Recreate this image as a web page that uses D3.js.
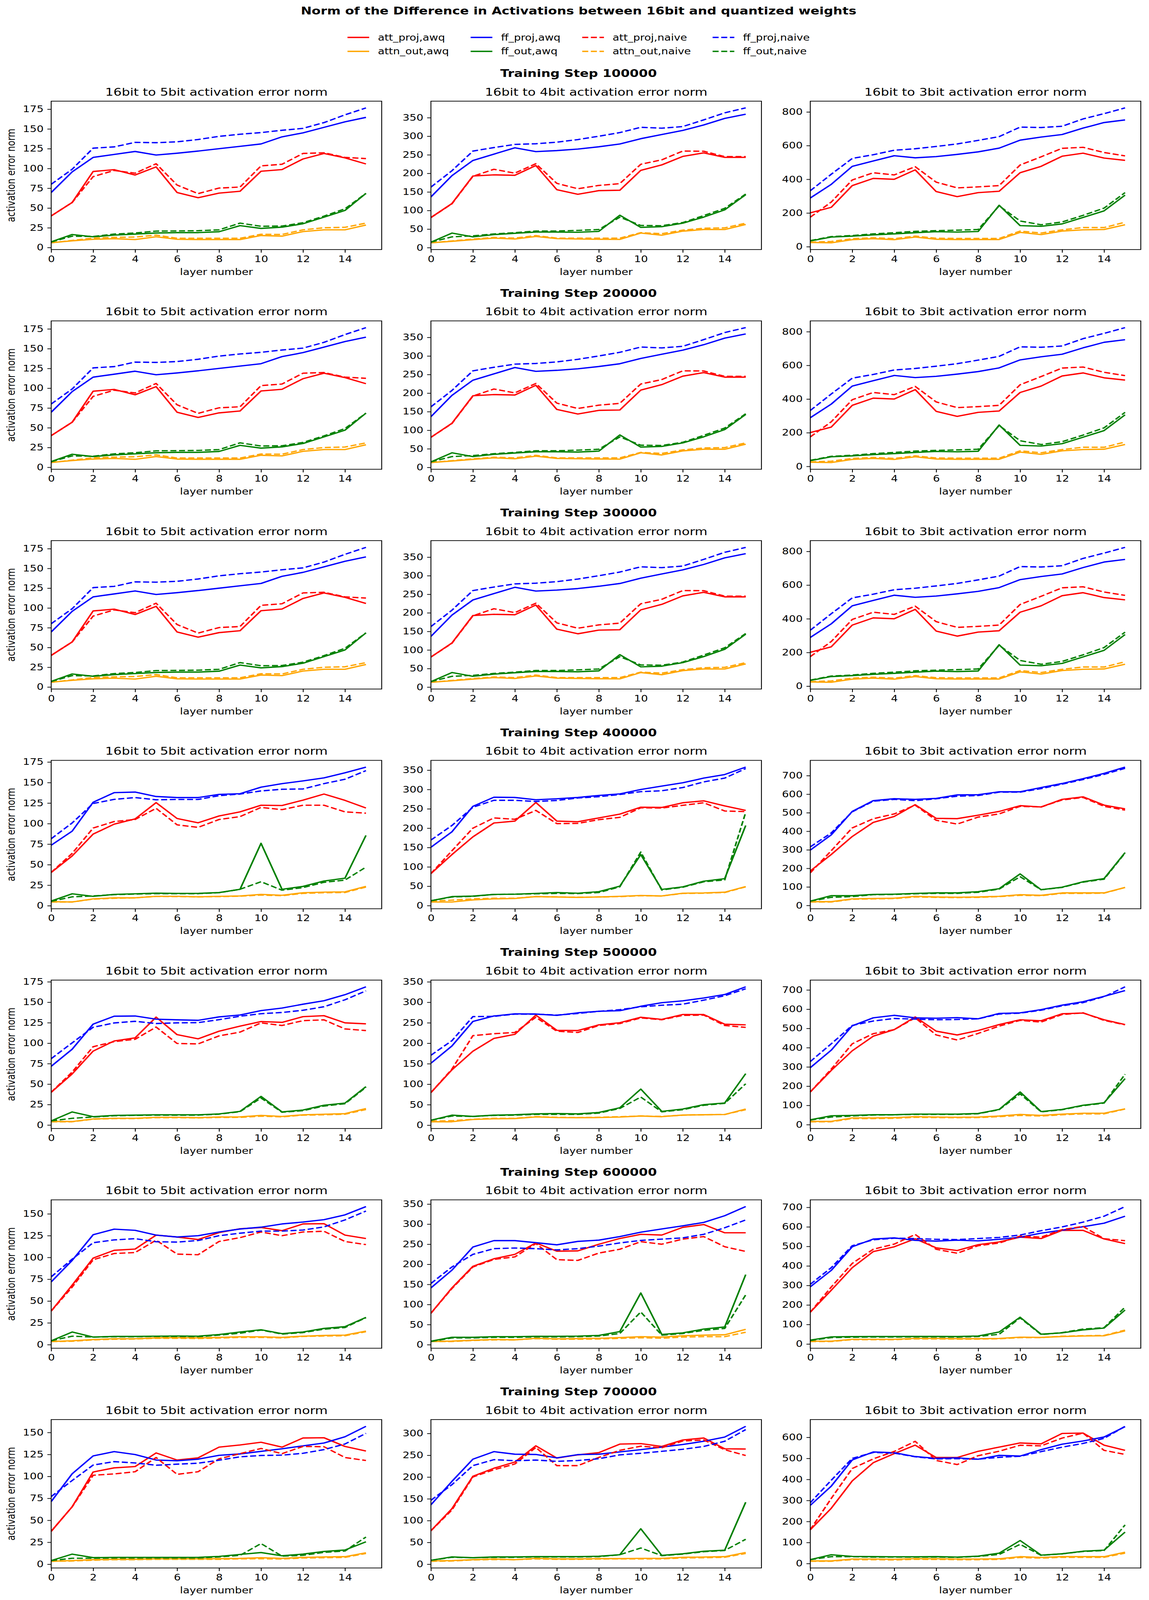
<!DOCTYPE html>
<html>
<head>
<meta charset="utf-8">
<script src="https://cdn.jsdelivr.net/npm/d3@7"></script>
<style>
body { margin: 0; background: #fff; overflow: hidden; }
svg { display: block; }
text { font-family: "DejaVu Sans", sans-serif; }
</style>
</head>
<body>
<div id="chart"></div>
<script>
// training steps (rows) and bit widths (columns)
var steps = [100000, 200000, 300000, 400000, 500000, 600000, 700000];
var bits = [5, 4, 3];
var xTicks = [0, 2, 4, 6, 8, 10, 12, 14];
// y tick spacing per row, per column
var yTickSteps = [[25, 50, 200], [25, 50, 200], [25, 50, 200], [25, 50, 100], [25, 50, 100], [25, 50, 100], [25, 50, 100]];

// values per series: [step][bits][layer 0..15]
// steps 100000-300000 look the same in the picture
var attProjAwqEarly = [
  [40, 57, 96.2, 98.5, 91.7, 102, 69.6, 63, 68.8, 71.2, 96.5, 98.6, 112, 119, 113.4, 105.7],
  [81, 118.7, 192.8, 196, 194.8, 221, 156, 143.6, 153.5, 154.5, 208, 222.8, 245.6, 255.2, 243, 243],
  [201, 233.6, 362.6, 405.3, 400, 456, 327, 297, 321, 329, 439, 477, 537, 555, 526, 512.5]];
var attProjAwq = [attProjAwqEarly, attProjAwqEarly, attProjAwqEarly,
  [[40.5, 60.6, 87.2, 99.3, 105.7, 125.5, 106.2, 101, 109.3, 114.3, 122.4, 122, 128.6, 136, 128.3, 119],
   [82.7, 131.7, 177.5, 213.4, 218.3, 266.3, 218.3, 216.7, 226.5, 236.3, 254.2, 253.6, 265.7, 270.6, 257.5, 246],
   [186, 274.8, 371.8, 447.7, 479.8, 543.4, 469.6, 468, 486.7, 507, 538, 531, 572, 585.8, 541, 521]],
  [[40, 62.4, 90.3, 102.7, 106.5, 131.8, 110.4, 105.3, 114.6, 120.8, 126.4, 125.4, 132.4, 133.6, 124.8, 123.6],
   [79.5, 135, 180.6, 211.8, 221.7, 268.7, 231.6, 231, 244.9, 250.2, 263.4, 258.2, 270.2, 270.2, 246.4, 244.9],
   [169.8, 281.8, 383.8, 459.5, 493.7, 559.6, 485.8, 466, 489, 520, 545, 539.8, 576, 580, 545, 520]],
  [[38.5, 68.2, 99.2, 108.2, 109.6, 125.6, 123.4, 120.5, 128.5, 132.9, 134.3, 130.7, 138.4, 138.7, 125.6, 121.7],
   [78.2, 141.3, 194.9, 213.8, 224.8, 253.2, 232.7, 233.4, 250, 264.3, 274.7, 272.8, 292, 299, 278.5, 278.5],
   [163.1, 275.7, 391, 473.4, 498, 539.3, 492.6, 478.9, 509, 522.8, 547.5, 540.4, 582.1, 582.1, 538.2, 514.6]],
  [[37.4, 65.4, 105, 109.7, 111.2, 126.7, 118.6, 121.1, 133.3, 135.8, 138.9, 133.3, 143.7, 144, 134.1, 128.9],
   [76.8, 127.4, 201.8, 220.2, 234.5, 271.7, 243.5, 250.9, 256, 275.6, 276.8, 270.2, 285.1, 289.6, 264.9, 264.3],
   [160.8, 262.8, 392.7, 479.3, 522.6, 562.8, 504, 504, 533.7, 553.5, 573.3, 569, 618.4, 620.3, 562.8, 538]]];

var attnOutAwqEarly = [
  [6.1, 8.5, 10.4, 11.2, 10.1, 13.6, 10.4, 10.1, 10.1, 10.1, 15.2, 14.4, 20.2, 22.4, 22.4, 28.5],
  [13, 17, 21.5, 25.6, 23.2, 30, 24.2, 23.2, 22.5, 22.2, 39.2, 33.4, 44.4, 48.8, 48.8, 62.4],
  [25, 23, 41.6, 47.6, 41.6, 57, 44, 42.4, 42.4, 42.4, 85, 71.6, 92.6, 100, 102, 130]];
var attnOutAwq = [attnOutAwqEarly, attnOutAwqEarly, attnOutAwqEarly,
  [[4.9, 4.5, 8.3, 9.6, 9.6, 11.4, 11.4, 10.8, 11.4, 11.9, 13.8, 12.7, 15.8, 16.5, 16.9, 23.5],
   [9.2, 9.2, 14.7, 17.3, 18.3, 23.2, 22.2, 21.2, 22.2, 23.9, 26.1, 24.8, 32, 32.7, 34.6, 49],
   [20.5, 20.5, 35.5, 37.6, 39, 49.2, 45.8, 44.4, 45.8, 49.2, 58, 54.7, 67.7, 67.7, 67.7, 97]],
  [[4.3, 4.3, 7.4, 8.2, 8.2, 9.4, 9.4, 9, 9.8, 10, 11.8, 10.5, 12.5, 13.2, 13.9, 20.1],
   [8.3, 8.3, 13.9, 15.5, 16.1, 20.1, 18.6, 18.2, 18.6, 19.8, 22.3, 20.7, 24.7, 25.4, 26, 39.3],
   [17, 17, 34.9, 34.9, 36.2, 41.5, 39.5, 38.2, 39.5, 44.8, 53.3, 48, 54.6, 59.2, 59.2, 82.3]],
  [[3.6, 4.4, 5.8, 6.8, 6.8, 7.7, 8, 7.7, 8.3, 9, 9, 8.3, 9.7, 10.5, 10.9, 15.5],
   [7.9, 8.8, 11, 12.9, 12, 15.8, 14.5, 15.1, 15.8, 17.7, 19.9, 18.9, 22.1, 23.7, 24.6, 38.2],
   [14.8, 14.8, 24.2, 24.2, 24.2, 28.6, 28.6, 27.5, 27.5, 28.6, 35.1, 34, 38.4, 41.2, 42.3, 67]],
  [[3.4, 4.1, 5.2, 5.6, 5.6, 6.1, 6.1, 6.1, 6.3, 6.6, 7.4, 6.6, 7.8, 8.3, 8.6, 13],
   [7.7, 8.3, 10.4, 11.9, 10.4, 13.4, 12.2, 12.2, 12.8, 12.8, 13.4, 13.4, 15.8, 16.4, 17.3, 26.8],
   [12.4, 12.4, 21.6, 21.6, 20.4, 23.5, 22.9, 21.6, 21.6, 22.9, 32.8, 29, 32.8, 32.8, 32.8, 53.8]]];

var ffProjAwqEarly = [
  [69.6, 95.7, 114, 117.7, 121.5, 117, 119.3, 122, 125, 128, 131, 140, 145, 152, 159, 164.6],
  [136.5, 193.8, 234.7, 251.8, 268.8, 258.6, 261.3, 265.4, 271.6, 279, 293.4, 304.7, 315.6, 330.3, 348, 359.3],
  [289, 370, 477, 509, 540, 527.5, 535, 548, 563, 585, 632.5, 651, 666, 704, 737, 752.5]];
var ffProjAwq = [ffProjAwqEarly, ffProjAwqEarly, ffProjAwqEarly,
  [[73.7, 90.8, 126, 137.7, 138.4, 133, 131.7, 131.7, 135.6, 136.4, 144.4, 148.7, 152, 155.7, 161.9, 168.8],
   [150.7, 190.5, 256.5, 280, 279.4, 273.5, 276, 279.4, 284.6, 288.6, 300, 308.8, 317.3, 329.4, 338.6, 357.8],
   [298.7, 380.7, 507, 565, 575.5, 572, 577, 596, 597, 613, 613, 635.7, 657.6, 683.5, 712, 746]],
  [[71.7, 92.6, 123.3, 132.9, 133.2, 129.3, 128.5, 127.9, 132.1, 134.4, 139.8, 142.9, 147.6, 151.8, 159.2, 168.8],
   [151.2, 193.3, 253.2, 266.5, 271.8, 271.2, 268, 274.3, 278, 279.5, 290.3, 299, 303.6, 310.5, 319, 337.7],
   [296, 387, 513.5, 555, 568, 555, 553, 556, 550, 578, 581, 597.8, 620.8, 638.6, 666.9, 696.5]],
  [[71.9, 96.6, 126, 132.4, 131.1, 125.6, 123.4, 124.9, 129.2, 132.6, 134.7, 138.4, 140.6, 143.3, 148.8, 158.3],
   [141.3, 185.4, 243, 259, 259, 253.9, 248.5, 257, 260.2, 269, 280, 288, 295.8, 304.3, 321, 343.7],
   [293.2, 377.3, 498, 537.6, 543.7, 531, 527.2, 532, 528.3, 536.5, 547.5, 567.8, 583.2, 600.8, 618.9, 654.6]],
  [[71.3, 103, 123.3, 128.2, 124.9, 118.6, 117.8, 119.6, 124, 125.6, 128.5, 131.4, 134.8, 138, 145.1, 157],
   [136.3, 190, 241, 258.3, 252.4, 251.8, 244, 251.5, 252.4, 257.7, 262.8, 268.8, 274.7, 282.1, 291.7, 316.4],
   [276.6, 368, 492.4, 530.5, 527, 508.6, 500, 502.5, 496, 514.2, 511, 541.6, 567.5, 582.7, 601.5, 650.8]]];

var ffOutAwqEarly = [
  [7.2, 16.5, 13.6, 15.7, 17, 18.4, 18.9, 18.9, 20, 27.7, 24.2, 25.8, 30.1, 38.4, 46.9, 68.5],
  [14.7, 39.2, 29, 35, 38.6, 42, 42, 41.3, 43.7, 87.3, 54.6, 56.3, 65.8, 82.2, 101.7, 142.6],
  [34, 57, 62.6, 70, 76, 83, 89, 86.6, 90, 246, 125, 121, 135, 173.5, 212.6, 306]];
var ffOutAwq = [ffOutAwqEarly, ffOutAwqEarly, ffOutAwqEarly,
  [[5.7, 14.5, 11.4, 13.8, 14.5, 15.3, 15, 15, 16, 20, 76, 20, 23.5, 30.1, 33.5, 85.6],
   [12.4, 23.2, 24.5, 28.8, 29.4, 31.4, 33.7, 32, 36, 50, 131.7, 41.8, 48.4, 63, 69.6, 206.9],
   [23.2, 52.6, 52.6, 59.5, 60.8, 65, 67.7, 67.7, 74.5, 90.2, 170.2, 84.8, 98.4, 127.8, 144.9, 285]],
  [[5.1, 16, 10.2, 11.8, 12.1, 12.5, 12.5, 12.5, 13.6, 16.7, 35, 16, 18.3, 24.2, 26.8, 46.9],
   [12, 24.4, 21.3, 24.4, 25.4, 27.5, 28.4, 27.5, 30.9, 42.4, 88.1, 33.7, 39.3, 50.1, 54.1, 125.8],
   [25, 46, 48, 51.3, 51.3, 54.6, 54.6, 54.6, 58, 79, 169.8, 67.8, 79, 100.7, 113.9, 239]],
  [[4.4, 14.5, 8.7, 9.4, 9.4, 9.7, 9.9, 9.7, 11.6, 14.5, 17.1, 12.6, 14.5, 18.6, 20.6, 31.2],
   [8.8, 18.3, 18.3, 19.9, 19.9, 20.8, 20.8, 21.4, 23, 32.5, 128.7, 25.5, 29.3, 38.8, 44.1, 174.4],
   [20.3, 36.8, 37.9, 38.4, 38.4, 38.9, 38.9, 38.4, 41.2, 61.5, 137.3, 50.5, 57.1, 72.5, 81.8, 174.1]],
  [[4.1, 11.5, 7.5, 7.8, 7.8, 7.8, 7.8, 7.8, 8.9, 11.1, 13.3, 9.6, 11.5, 14.5, 16.2, 25.5],
   [8.9, 16.7, 14.9, 16.7, 16.7, 17.3, 17.3, 17.3, 18.2, 21.7, 81.3, 20.2, 23.8, 29.8, 32.1, 142.3],
   [18.6, 42, 34, 32.8, 32.2, 32.2, 32.8, 30.9, 35.3, 49.5, 109.5, 40.2, 46.4, 58.8, 63.7, 149.7]]];

var attProjNaiveEarly = [
  [40, 57, 89.7, 97.5, 94, 106, 79, 68.2, 75.2, 76.5, 103.3, 105.3, 119, 119.8, 114, 112.5],
  [81, 118, 192, 211, 200.6, 226, 173, 158.6, 167.5, 172.3, 224.5, 236.4, 260, 259.6, 245, 245],
  [175, 265, 396, 439, 426, 475, 383, 349, 355, 362.6, 485, 533.6, 584, 590, 559, 539]];
var attProjNaive = [attProjNaiveEarly, attProjNaiveEarly, attProjNaiveEarly,
  [[40.5, 63.7, 94.6, 102.5, 105, 118.6, 98.5, 95.4, 105, 108.5, 119.7, 117, 122.4, 122.4, 114.3, 112.7],
   [82.7, 141.5, 200, 226.5, 223, 246, 211.8, 212.4, 222, 228, 252.6, 252, 259, 265.7, 244.4, 242.8],
   [175.7, 295.3, 418, 467.5, 493.5, 541, 459.3, 438.8, 476.4, 493.5, 534.5, 531, 568.7, 582.4, 534.5, 514]],
  [[40, 64.7, 95.7, 101.9, 104.7, 119.7, 99.6, 99.1, 108.9, 113.5, 124.8, 121.6, 127.5, 128.5, 117.4, 115.4],
   [79.5, 136.7, 218.6, 223.3, 226.3, 263.4, 229.4, 226.3, 243.4, 248, 261.9, 257.3, 268, 268.7, 243.4, 238.7],
   [169.8, 288.3, 420, 472.7, 493.7, 555, 466, 439.8, 474, 512, 541.8, 533, 572, 581.3, 541.8, 518.8]],
  [[38.5, 66, 97.3, 104.5, 105.6, 119.8, 103.8, 103.1, 118.3, 122.7, 129.2, 124.9, 129.2, 130, 118.3, 114.7],
   [78.2, 139.7, 193.3, 212.2, 218.5, 251.6, 211.6, 209.7, 228, 237.5, 256.4, 250, 262.7, 269, 243.8, 232.1],
   [163.1, 292, 413, 485.4, 511.8, 561.2, 485.4, 465.1, 503.6, 517.3, 553, 547.5, 586, 602.4, 539.3, 529.4]],
  [[37.4, 65.4, 101.3, 102.8, 105.3, 121.5, 102.3, 105.3, 120, 125.9, 131.8, 125.9, 134.1, 133.8, 121.5, 118.1],
   [76.8, 124.4, 200.3, 216.7, 230, 267.9, 226.2, 226.2, 245, 261.3, 270.8, 267.3, 282.7, 285.1, 262.8, 249.4],
   [160.8, 309.6, 451.8, 497.5, 533, 581, 490, 470.6, 512.7, 534, 562.4, 559.4, 596.4, 620.3, 538, 518.8]]];

var attnOutNaiveEarly = [
  [6, 9, 12, 12.8, 13.3, 15.7, 11.7, 11.7, 11.7, 11.7, 16.8, 16.5, 22.4, 25, 25.6, 30.9],
  [13, 18, 23, 27.3, 25.6, 32.4, 25.6, 25.6, 25.6, 25.6, 40.3, 37.5, 47, 52.2, 53.2, 65.8],
  [26.6, 31, 47.6, 53, 47.6, 62.6, 50, 49, 49, 49, 92.6, 81, 100, 113.6, 113.6, 145]];
var attnOutNaive = [attnOutNaiveEarly, attnOutNaiveEarly, attnOutNaiveEarly,
  [[4.6, 4.6, 8, 9.1, 9.6, 11.4, 11.1, 10.8, 11.1, 11.6, 13, 12.2, 15, 15.8, 16.1, 22.7],
   [11.4, 14, 17.3, 19, 19, 23.2, 22.2, 21.6, 22.2, 23.2, 25.5, 24.8, 31.4, 32, 33.7, 48.4],
   [18.5, 18.5, 33.5, 35.5, 37, 45.8, 43.7, 42.4, 43.7, 47.8, 54.7, 52.6, 65, 65, 66.3, 97]],
  [[4, 4, 7.1, 7.9, 7.9, 9, 9, 8.7, 9.3, 9.4, 10.8, 10, 12.1, 12.5, 13.2, 19],
   [9.9, 10.8, 14.5, 16.7, 16.7, 20.7, 19.2, 18.6, 19.2, 20.7, 22.3, 21.3, 24.4, 25.4, 26, 37.7],
   [15, 15, 31.6, 31.6, 33, 38.2, 36.9, 36.2, 36.9, 41.5, 48, 44.8, 51.3, 56, 56, 81]],
  [[3.6, 3.9, 5.4, 6.2, 6.5, 7.3, 7.3, 7, 7.6, 8.3, 8.3, 7.7, 9.4, 9.9, 10.2, 14.8],
   [7.9, 7.9, 10.4, 12, 12, 15.1, 13.6, 13.6, 14.2, 15.8, 17.3, 16.1, 18.9, 19.9, 19.9, 30.9],
   [13, 13, 22.5, 22.5, 22.5, 26.5, 26.5, 25.5, 25.5, 27, 33, 33, 40, 42.5, 44, 71.4]],
  [[3.4, 3.7, 4.6, 5.2, 5.2, 5.6, 5.6, 5.6, 5.6, 6.1, 6.3, 5.9, 7.1, 7.4, 7.8, 12.3],
   [6.8, 7.4, 9.8, 10.7, 10.4, 12.2, 11.3, 11.3, 11.9, 12.2, 12.2, 12.2, 14.3, 14.9, 15.8, 24.7],
   [11.1, 11.1, 18.6, 18.6, 17.3, 20.4, 19.8, 18.6, 18.6, 19.8, 29, 26, 29.7, 29.7, 29.7, 49.5]]];

var ffProjNaiveEarly = [
  [80, 99, 125.7, 127.3, 133, 132.6, 133.7, 136.6, 140.6, 143.3, 145.4, 148.3, 150.7, 158, 167.8, 176.6],
  [163, 207, 260, 269.5, 278, 279.8, 284, 291, 300, 309.8, 324, 321.7, 326, 344, 363, 376.3],
  [332, 430, 524, 546, 572.5, 581.5, 595, 610, 631, 653.5, 710, 707.5, 715, 758.5, 790, 824]];
var ffProjNaive = [ffProjNaiveEarly, ffProjNaiveEarly, ffProjNaiveEarly,
  [[81.5, 100.8, 124.5, 129.5, 131.7, 129, 129.4, 129.4, 134, 136, 139.8, 141.8, 142.2, 148.7, 154, 164.5],
   [169.3, 206.9, 254, 272, 272, 269, 271.6, 278, 281.4, 287, 294.4, 296.7, 305, 319.6, 329.4, 354],
   [315.8, 391, 505, 562, 572, 565, 575.5, 589, 592.6, 611, 611, 630, 654, 679, 706.8, 739.6]],
  [[81, 100.4, 119.4, 124.7, 126.7, 124, 124.8, 125.1, 128.7, 132.9, 136, 137.5, 140.2, 144.5, 153, 163.9],
   [170.7, 206.2, 265, 265.6, 271.2, 271.2, 268.7, 272.7, 278, 282, 289, 292.8, 295.3, 305.2, 316, 333],
   [327.8, 420, 515.5, 538.5, 551.7, 548.4, 545, 546.4, 550, 574.7, 579.3, 594.5, 617.5, 634, 665, 716]],
  [[77.7, 98, 116.9, 120.1, 121.5, 118, 117.6, 119.4, 124.9, 127.8, 130.2, 130.2, 131.4, 135, 143, 153.2],
   [152.3, 193.3, 224.8, 239, 240.6, 239, 235.9, 239, 245.3, 253.2, 259.5, 262.7, 265.8, 274.7, 291, 310.6],
   [305.9, 391, 503.6, 533.8, 542, 540.4, 536.5, 535, 540.4, 545.8, 558.5, 580.4, 599.7, 624.4, 654.6, 704]],
  [[77, 95.3, 112.9, 116.8, 115.3, 112.7, 113.9, 115, 118.4, 122.3, 123.8, 124.2, 126.3, 130.5, 136.9, 149],
   [146.7, 182.4, 226.2, 239.9, 237.5, 239, 236, 238, 242, 250.9, 254.5, 259, 263.7, 270.2, 282.1, 308.9],
   [289.3, 396, 500, 528, 525, 507.6, 497.5, 498.5, 496, 505, 510, 532, 553.3, 571, 595, 652.3]]];

var ffOutNaiveEarly = [
  [7, 14.4, 14, 17, 18.4, 20.8, 21, 21.3, 22.4, 30.9, 26.9, 27.2, 31.4, 39.7, 49, 68.5],
  [14.7, 29, 31.7, 36.8, 40.3, 44.7, 44.7, 46.4, 48.8, 81.9, 59.7, 59, 67.5, 86.3, 105.8, 144.3],
  [36, 60, 66, 76, 83, 91, 95, 98, 102, 242.6, 152.5, 130, 146.6, 186, 229, 321]];
var ffOutNaive = [ffOutNaiveEarly, ffOutNaiveEarly, ffOutNaiveEarly,
  [[5.3, 10.8, 11.9, 13.5, 14.2, 14.7, 14.7, 14.7, 15.8, 20, 29.2, 18.9, 22, 28.5, 31.2, 47],
   [12.4, 22.2, 23.9, 28.8, 29.4, 30.4, 31.4, 31, 33.7, 48.4, 138.2, 40.2, 47.4, 61.4, 66.3, 241],
   [23.2, 43.7, 47.8, 58, 59.5, 62.9, 65, 65, 71, 88.2, 155, 84.8, 97, 125.8, 141.5, 283]],
  [[5.1, 8.2, 9.8, 11.3, 11.8, 12.1, 12.1, 12.1, 13.3, 16.3, 33, 15.6, 17.5, 23.2, 26, 46.1],
   [12, 22.3, 21.3, 23.8, 24.4, 26.3, 26.3, 26.3, 29.4, 40.8, 68.6, 32.5, 37.7, 48.5, 53.2, 101],
   [23.7, 39.5, 44.8, 50, 51.3, 53.3, 53.3, 53.3, 56.6, 77.7, 160, 66.5, 77.7, 98.7, 111.9, 262]],
  [[4.4, 9.7, 8.7, 9.1, 9.1, 9.4, 9.4, 9.1, 10.9, 13.1, 16.7, 12.1, 13.8, 17.7, 19.6, 30.9],
   [7.9, 16.7, 16.7, 18.3, 18.3, 19.2, 19.2, 19.9, 21.4, 27.8, 81.4, 23.7, 27.8, 35.6, 40.4, 123.9],
   [18, 33, 35, 36, 36, 36.5, 36.5, 35.5, 38.5, 50, 134, 48.5, 58.5, 76.5, 84, 189]],
  [[4.1, 6.8, 6.8, 7.1, 7.1, 7.1, 7.1, 7.1, 8.3, 10.1, 23.5, 9.2, 10.1, 13.5, 15, 31],
   [8.9, 15.8, 14.9, 15.8, 15.8, 16.7, 16.7, 16.7, 17.3, 21.7, 37.2, 19.6, 23.2, 28.6, 31.5, 57.2],
   [18.6, 32.8, 32.8, 30.9, 30.9, 30.9, 30.9, 29.7, 34, 43.3, 91.4, 39, 46.4, 57.5, 61.8, 183.8]]];

// plotting order follows the legend (column-major, 4 columns)
var series = [
  {name: "att_proj,awq", color: "red", dashed: false, values: attProjAwq},
  {name: "attn_out,awq", color: "orange", dashed: false, values: attnOutAwq},
  {name: "ff_proj,awq", color: "blue", dashed: false, values: ffProjAwq},
  {name: "ff_out,awq", color: "green", dashed: false, values: ffOutAwq},
  {name: "att_proj,naive", color: "red", dashed: true, values: attProjNaive},
  {name: "attn_out,naive", color: "orange", dashed: true, values: attnOutNaive},
  {name: "ff_proj,naive", color: "blue", dashed: true, values: ffProjNaive},
  {name: "ff_out,naive", color: "green", dashed: true, values: ffOutNaive}
];

// sizes in figure pixels (200 dpi figure, 2941 x 5046)
var pt = 200 / 72;
var W = 2941, H = 5046;
var centerX = 1481;
var axLeft = [131, 1103, 2074], axW = 846, axH = 468;
var axTop0 = 319, rowGap = 693;
var lw = 1.5 * pt;
var dash = [3.7 * lw, 1.6 * lw].join(",");
var tickLen = 3.5 * pt, tickPad = 3.5 * pt;
var smallFont = 10 * pt, bigFont = 12 * pt;

// the whole figure is fitted into the browser window
var svg = d3.select("#chart").append("svg")
    .attr("width", window.innerWidth || W)
    .attr("height", window.innerHeight || H)
    .attr("viewBox", "0 0 " + W + " " + H)
    .attr("preserveAspectRatio", "none")
    .style("background", "#fff");

// main title
svg.append("text")
    .attr("x", centerX).attr("y", 46)
    .attr("text-anchor", "middle")
    .style("font-size", bigFont + "px")
    .style("font-weight", "bold")
    .text("Norm of the Difference in Activations between 16bit and quantized weights");

// legend, 4 columns filled column by column
var legend = svg.append("g");
var handleLen = 2 * smallFont, handlePad = 0.8 * smallFont, colSpace = 2 * smallFont;
var legendRows = [118, 162];
var colX = 0;
for (var c = 0; c < 4; c++) {
  var maxW = 0;
  for (var r = 0; r < 2; r++) {
    var s = series[c * 2 + r];
    var ly = legendRows[r];
    legend.append("line")
        .attr("x1", colX).attr("x2", colX + handleLen)
        .attr("y1", ly).attr("y2", ly)
        .attr("stroke", s.color)
        .attr("stroke-width", lw)
        .attr("stroke-dasharray", s.dashed ? dash : null);
    var t = legend.append("text")
        .attr("x", colX + handleLen + handlePad).attr("y", ly)
        .attr("dy", "0.35em")
        .style("font-size", smallFont + "px")
        .text(s.name);
    maxW = Math.max(maxW, t.node().getComputedTextLength());
  }
  colX += handleLen + handlePad + maxW + colSpace;
}
var legendW = colX - colSpace;
legend.attr("transform", "translate(" + (centerX - legendW / 2) + ",0)");

var x = d3.scaleLinear().domain([0, 15.75]).range([0, axW]);
var line = d3.line()
    .x(function(d, i) { return x(i); })
    .y(function(d) { return d; });

steps.forEach(function(step, si) {
  var top = axTop0 + rowGap * si;

  svg.append("text")
      .attr("x", centerX).attr("y", top - 76)
      .attr("text-anchor", "middle")
      .style("font-size", bigFont + "px")
      .style("font-weight", "bold")
      .text("Training Step " + step);

  bits.forEach(function(b, bi) {
    var g = svg.append("g")
        .attr("transform", "translate(" + axLeft[bi] + "," + top + ")");

    // matplotlib style autoscale: data range plus 5% each side
    var all = [];
    series.forEach(function(s) { all = all.concat(s.values[si][bi]); });
    var lo = d3.min(all), hi = d3.max(all), m = 0.05 * (hi - lo);
    var y = d3.scaleLinear().domain([lo - m, hi + m]).range([axH, 0]);
    var yTicks = d3.range(0, hi + m + 1e-9, yTickSteps[si][bi]);

    series.forEach(function(s) {
      g.append("path")
          .datum(s.values[si][bi].map(function(v) { return y(v); }))
          .attr("d", line)
          .attr("fill", "none")
          .attr("stroke", s.color)
          .attr("stroke-width", lw)
          .attr("stroke-linejoin", "round")
          .attr("stroke-dasharray", s.dashed ? dash : null);
    });

    // frame
    g.append("rect")
        .attr("width", axW).attr("height", axH)
        .attr("fill", "none")
        .attr("stroke", "#000")
        .attr("stroke-width", 0.8 * pt);

    var yAxis = g.append("g")
        .call(d3.axisLeft(y).tickValues(yTicks).tickSize(tickLen).tickPadding(tickPad).tickSizeOuter(0));
    var xAxis = g.append("g")
        .attr("transform", "translate(0," + axH + ")")
        .call(d3.axisBottom(x).tickValues(xTicks).tickSize(tickLen).tickPadding(tickPad).tickSizeOuter(0));
    [yAxis, xAxis].forEach(function(a) {
      a.attr("font-family", null).attr("font-size", null);
      a.select(".domain").remove();
      a.selectAll(".tick line").attr("stroke", "#000").attr("stroke-width", 0.8 * pt);
      a.selectAll(".tick text").style("font-size", smallFont + "px").attr("fill", "#000");
    });

    g.append("text")
        .attr("x", axW / 2).attr("y", -6 * pt - 1)
        .attr("text-anchor", "middle")
        .style("font-size", bigFont + "px")
        .text("16bit to " + b + "bit activation error norm");

    g.append("text")
        .attr("x", axW / 2).attr("y", axH + 80)
        .attr("text-anchor", "middle")
        .style("font-size", smallFont + "px")
        .text("layer number");

    if (bi === 0) {
      g.append("text")
          .attr("transform", "translate(" + (-axLeft[0] + 38) + "," + (axH / 2) + ") rotate(-90)")
          .attr("text-anchor", "middle")
          .style("font-size", smallFont + "px")
          .text("activation error norm");
    }
  });
});
</script>
</body>
</html>
